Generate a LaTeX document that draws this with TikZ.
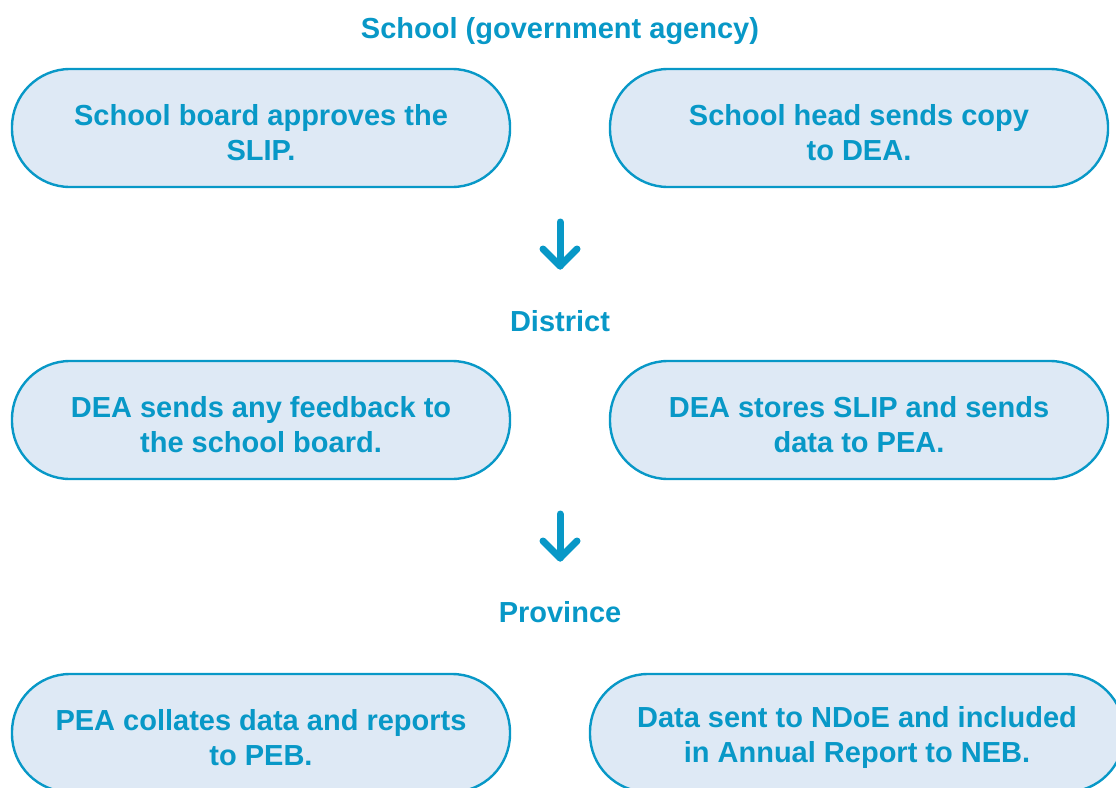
\documentclass[tikz,border=0pt]{standalone}
\usepackage{fontspec}
\setmainfont{Liberation Sans}
\definecolor{tealblue}{RGB}{8,152,199}
\definecolor{paleblue}{RGB}{222,233,245}
\newcommand{\lowstrut}{\rule{0pt}{30pt}}
\tikzset{
  stadium/.style={draw=tealblue, line width=2.4pt, fill=paleblue, rounded corners=58pt,
    minimum height=118pt, align=center, text=tealblue,
    font=\bfseries\fontsize{29}{35}\selectfont, inner sep=0pt},
  heading/.style={text=tealblue, font=\bfseries\fontsize{29}{35}\selectfont, inner sep=0pt},
  downarrow/.style={draw=tealblue, line width=7pt, line cap=round, line join=round}
}
\begin{document}
\begin{tikzpicture}[x=1pt,y=-1pt]
\useasboundingbox (0,0) rectangle (1116,787);
\clip (0,0) rectangle (1116,787);
\node[heading] (t1) at (560,31) {School (government agency)};
\node[stadium, minimum width=498pt] (b1) at (261,128) {\lowstrut School board approves the\\SLIP.};
\node[stadium, minimum width=498pt] (b2) at (859,128) {\lowstrut School head sends copy\\to DEA.};
\coordinate (a1s) at (560,222);
\coordinate (a1e) at (560,266);
\coordinate (a1l) at (543,249);
\coordinate (a1r) at (577,249);
\draw[downarrow] (a1s) -- (a1e);
\draw[downarrow] (a1l) -- (a1e) -- (a1r);
\node[heading] (t2) at (560,321) {District};
\node[stadium, minimum width=498pt] (b3) at (261,420) {\lowstrut DEA sends any feedback to\\the school board.};
\node[stadium, minimum width=498pt] (b4) at (859,420) {\lowstrut DEA stores SLIP and sends\\data to PEA.};
\coordinate (a2s) at (560,514);
\coordinate (a2e) at (560,558);
\coordinate (a2l) at (543,541);
\coordinate (a2r) at (577,541);
\draw[downarrow] (a2s) -- (a2e);
\draw[downarrow] (a2l) -- (a2e) -- (a2r);
\node[heading] (t3) at (560,612) {Province};
\node[stadium, minimum width=498pt] (b5) at (261,733) {\lowstrut PEA collates data and reports\\to PEB.};
\node[stadium, minimum width=534pt] (b6) at (857,733) {\lowstrut Data sent to NDoE and included\\in Annual Report to NEB.};
\end{tikzpicture}
\end{document}
